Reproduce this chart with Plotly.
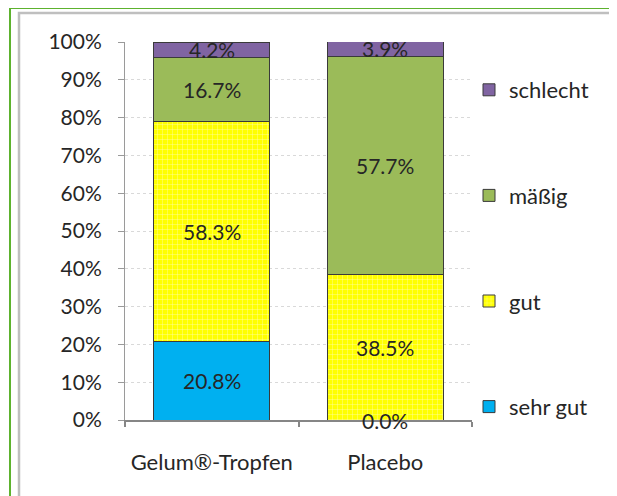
import plotly.graph_objects as go

categories = ["Gelum®-Tropfen", "Placebo"]
series_names = ["sehr gut", "gut", "mäßig", "schlecht"]
sehr_gut = [0.208, 0.0]
gut = [0.583, 0.385]
maessig = [0.167, 0.577]
schlecht = [0.042, 0.039]
y_ticks = [0, 0.1, 0.2, 0.3, 0.4, 0.5, 0.6, 0.7, 0.8, 0.9, 1.0]

series_values = [sehr_gut, gut, maessig, schlecht]
colors = ["#00B0F0", "#FFFF00", "#9BBB59", "#8064A2"]

W, H = 617, 496
OFF = 8  # page body margin
L, R, T, B = 125 - OFF, 145 + OFF, 42 - OFF, 76 + OFF
FONT = "Lato"
TXT = "#262626"

fig = go.Figure()
n = len(series_names)
for i, (name, vals, col) in enumerate(zip(series_names, series_values, colors)):
    marker = dict(color=col, line=dict(color="#3a3a3a", width=1))
    if name == "gut":
        marker["pattern"] = dict(shape="+", fgcolor="#FFFFB0", bgcolor="#FFFF00",
                                 size=5, solidity=0.15, fillmode="replace")
    fig.add_trace(go.Bar(x=categories, y=vals, name=name, marker=marker,
                         legendgroup=name, legendrank=n - i, hoverinfo="skip"))

# value labels at segment centres
for ci, cat in enumerate(categories):
    base = 0.0
    for vals in series_values:
        v = vals[ci]
        fig.add_annotation(x=cat, y=base + v / 2, text=f"{v*100:.1f}%",
                           showarrow=False, xref="x", yref="y",
                           font=dict(family=FONT, size=21, color=TXT))
        base += v

pw = W - L - R
ph = H - T - B
def px(x):
    return (x - OFF - L) / pw
def py(y):
    return (H - B - (y - OFF)) / ph

fig.add_shape(type="rect", xref="paper", yref="paper",
              x0=px(10), x1=px(640), y0=py(8), y1=py(520),
              line=dict(color="#5DB22E", width=2), layer="below")
fig.add_shape(type="rect", xref="paper", yref="paper",
              x0=px(19), x1=px(615), y0=py(13), y1=py(520),
              line=dict(color="#BFBFBF", width=2.5), layer="below")

fig.update_layout(
    width=W, height=H,
    margin=dict(l=L, r=R, t=T, b=B, autoexpand=False),
    barmode="stack", bargap=0.33,
    paper_bgcolor="white", plot_bgcolor="white",
    font=dict(family=FONT, size=21, color=TXT),
    showlegend=True,
    legend=dict(x=px(469), y=py(69), xanchor="left", yanchor="top",
                traceorder="grouped", tracegroupgap=74,
                font=dict(family=FONT, size=22, color=TXT),
                bgcolor="rgba(0,0,0,0)", itemwidth=30),
)
fig.update_xaxes(showline=True, linecolor="#868686", linewidth=2,
                 ticks="outside", tickson="boundaries", ticklen=5,
                 tickcolor="#868686", tickwidth=1.5,
                 ticklabelstandoff=22, showgrid=False,
                 tickfont=dict(family=FONT, size=22, color=TXT))
fig.update_yaxes(range=[0, 1], tickvals=y_ticks, tickformat=".0%",
                 showline=True, linecolor="#9a9a9a", linewidth=1,
                 ticks="outside", ticklen=6, tickcolor="#9a9a9a",
                 ticklabelstandoff=12,
                 showgrid=True, gridcolor="#D9D9D9", griddash="dot",
                 zeroline=False,
                 tickfont=dict(family=FONT, size=21, color=TXT))

fig.write_html("out.html")
